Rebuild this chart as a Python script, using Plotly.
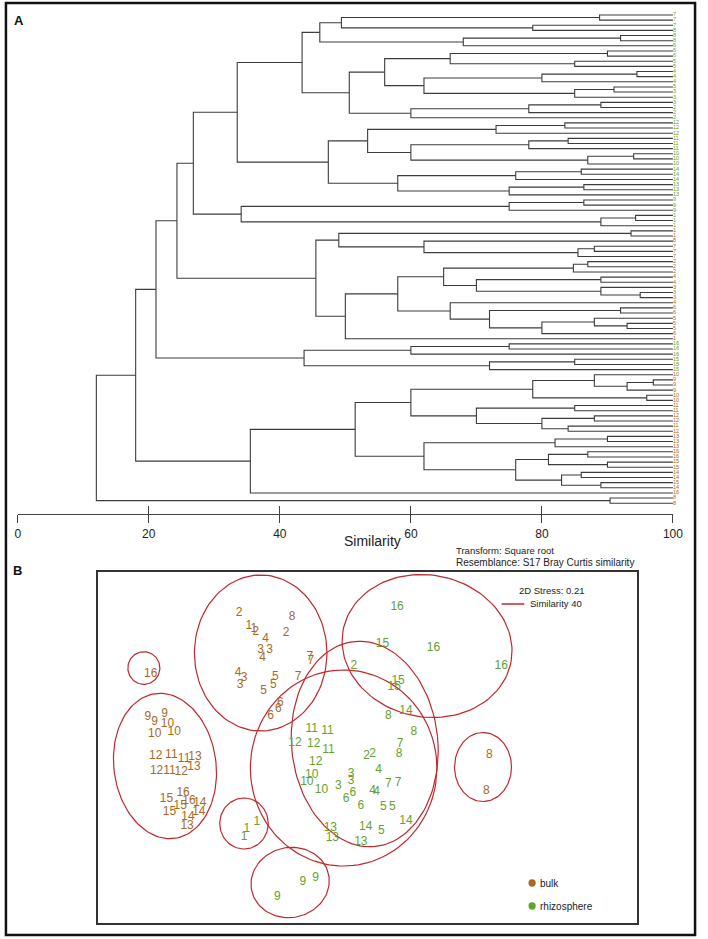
import math
import plotly.graph_objects as go

W, H = 708, 939
FONT = "Liberation Sans, Arial, sans-serif"
GREEN = "#66A02E"
BROWN = "#A66A24"
RED = "#C0282D"
LINE = "#3c3c3c"

# ---------------- Panel A data: dendrogram ----------------
leaf_labels = [
    "7", "7", "7", "8", "8", "8", "6", "6", "6", "5", "5", "4", "4", "4", "5", "3", "3", "3", "2", "2", "2",
    "12", "12", "12", "11", "11", "11", "10", "10", "10", "14", "14", "14", "13", "13", "13", "9", "9", "9",
    "1", "1", "1",
    "1", "1", "8", "7", "7", "7", "2", "2", "2", "4", "4", "3", "3", "3", "4", "6", "6", "5", "5", "5", "6", "1",
    "16", "16", "16", "15", "15", "15",
    "10", "9", "9", "9", "10", "10", "11", "11", "12", "12", "11", "12", "13", "13", "13", "16", "16", "15",
    "15", "14", "14", "15", "14", "16", "8", "8",
]
leaf_type = ["r"] * 42 + ["b"] * 22 + ["r"] * 6 + ["b"] * 26

# merges: (first leaf, split leaf, end leaf, similarity)
merges = [
    (0, 94, 96, 12.0), (94, 95, 96, 90.4), (0, 70, 94, 18.0), (70, 93, 94, 35.5),
    (0, 64, 70, 21.1), (0, 42, 64, 24.3), (0, 36, 42, 26.8), (0, 21, 36, 33.5),
    (36, 39, 42, 34.1), (42, 48, 64, 45.5), (64, 67, 70, 43.7), (70, 82, 93, 51.5),
    (0, 7, 21, 43.4), (0, 4, 7, 46.1), (0, 2, 4, 49.4), (0, 1, 2, 88.8), (2, 3, 4, 78.6),
    (4, 6, 7, 68.0), (4, 5, 6, 92.0), (7, 17, 21, 50.6), (7, 11, 17, 56.0), (7, 9, 11, 66.0),
    (7, 8, 9, 90.0), (9, 10, 11, 85.0), (11, 14, 17, 62.0), (11, 13, 14, 80.0), (11, 12, 13, 94.5),
    (14, 16, 17, 85.0), (14, 15, 16, 91.0), (17, 20, 21, 60.0), (17, 19, 20, 78.0), (17, 18, 19, 89.0),
    (21, 30, 36, 47.4), (21, 24, 30, 53.4), (21, 23, 24, 73.0), (21, 22, 23, 83.5), (24, 27, 30, 60.0),
    (24, 26, 27, 78.0), (24, 25, 26, 84.0), (27, 29, 30, 87.0), (27, 28, 29, 94.0), (30, 33, 36, 58.0),
    (30, 32, 33, 76.0), (30, 31, 32, 86.0), (33, 35, 36, 75.0), (33, 34, 35, 86.4),
    (36, 38, 39, 75.0), (36, 37, 38, 86.4), (39, 41, 42, 89.0), (39, 40, 41, 94.3),
    (42, 44, 48, 49.0), (42, 43, 44, 93.6), (44, 45, 48, 62.0), (45, 47, 48, 85.5), (45, 46, 47, 88.0),
    (48, 63, 64, 50.0), (48, 56, 63, 58.0), (48, 51, 56, 65.0), (48, 50, 51, 84.8), (48, 49, 50, 87.0),
    (51, 53, 56, 70.0), (51, 52, 53, 89.0), (53, 54, 56, 89.0), (54, 55, 56, 95.0), (56, 57, 63, 66.0),
    (57, 59, 63, 72.0), (57, 58, 59, 92.0), (59, 62, 63, 80.0), (59, 60, 62, 88.0), (60, 61, 62, 93.0),
    (64, 66, 67, 60.0), (64, 65, 66, 75.0), (67, 69, 70, 72.0), (67, 68, 69, 85.0),
    (70, 76, 82, 60.0), (70, 74, 76, 78.6), (70, 71, 74, 88.0), (71, 73, 74, 93.0), (71, 72, 73, 97.0),
    (74, 75, 76, 96.0), (76, 78, 82, 70.0), (76, 77, 78, 85.0), (78, 80, 82, 80.0), (78, 79, 80, 88.0),
    (80, 81, 82, 84.0), (82, 85, 93, 62.0), (82, 84, 85, 82.0), (82, 83, 84, 90.0), (85, 89, 93, 76.0),
    (85, 87, 89, 81.0), (85, 86, 87, 87.0), (87, 88, 89, 90.0), (89, 91, 93, 83.0), (89, 90, 91, 86.0),
    (91, 92, 93, 89.0),
]
sim_ticks = [0, 20, 40, 60, 80, 100]

# ---------------- Panel B data: NMDS ----------------
bulk_labels = ["2", "8", "1", "1", "2", "2", "4", "3", "3", "4", "7", "7", "4", "3", "3", "5", "5", "5",
               "7", "6", "6", "6", "16", "9", "9", "9", "10", "10", "10", "12", "11", "11", "13", "12",
               "11", "12", "13", "15", "16", "15", "16", "14", "15", "14", "14", "13", "8", "8"]
bulk_x = [-1.31, -0.77, -1.21, -1.16, -1.14, -0.83, -1.04, -1.09, -1.00, -1.07, -0.59, -0.58, -1.32,
          -1.26, -1.30, -0.94, -0.96, -1.06, -0.71, -0.89, -0.91, -0.99, -2.21, -2.24, -2.17, -2.07,
          -2.04, -2.17, -1.97, -2.16, -2.00, -1.87, -1.76, -2.15, -2.02, -1.90, -1.77, -2.05, -1.88,
          -1.91, -1.82, -1.71, -2.02, -1.83, -1.72, -1.84, 1.24, 1.21]
bulk_y = [1.35, 1.31, 1.22, 1.19, 1.16, 1.15, 1.09, 0.98, 0.98, 0.90, 0.91, 0.87, 0.75, 0.70, 0.63,
          0.71, 0.63, 0.57, 0.71, 0.45, 0.39, 0.32, 0.74, 0.31, 0.26, 0.34, 0.24, 0.14, 0.16, -0.08,
          -0.07, -0.11, -0.09, -0.23, -0.23, -0.24, -0.19, -0.51, -0.45, -0.58, -0.53, -0.55, -0.64,
          -0.69, -0.64, -0.78, -0.07, -0.43]
rhizo_labels = ["12", "12", "11", "11", "11", "12", "10", "10", "10", "3", "3", "3", "2", "2", "7", "8",
                "4", "6", "6", "6", "4", "4", "7", "7", "5", "5", "13", "13", "13", "14", "5", "14",
                "1", "1", "1", "9", "9", "9", "16", "16", "16", "15", "2", "15", "15", "14", "8", "8"]
rhizo_x = [-0.74, -0.55, -0.40, -0.57, -0.41, -0.53, -0.57, -0.62, -0.47, -0.30, -0.17, -0.17, -0.01,
           0.05, 0.33, 0.32, 0.11, -0.22, -0.15, -0.07, 0.05, 0.09, 0.21, 0.31, 0.16, 0.25, -0.38,
           -0.36, -0.07, -0.02, 0.14, 0.39, -1.13, -1.23, -1.26, -0.66, -0.53, -0.92, 0.30, 0.67,
           1.36, 0.15, -0.14, 0.31, 0.27, 0.39, 0.21, 0.47]
rhizo_y = [0.05, 0.04, -0.02, 0.19, 0.17, -0.14, -0.27, -0.34, -0.42, -0.38, -0.26, -0.33, -0.08,
           -0.06, 0.04, -0.06, -0.22, -0.51, -0.45, -0.58, -0.43, -0.44, -0.36, -0.35, -0.59, -0.59,
           -0.80, -0.90, -0.94, -0.79, -0.83, -0.73, -0.74, -0.81, -0.89, -1.34, -1.30, -1.49, 1.41,
           1.00, 0.82, 1.04, 0.82, 0.67, 0.61, 0.37, 0.32, 0.16]
# similarity-40 contours approximated as ellipses (centre, semi-axes, rotation in degrees)
contour_cx = [-1.09, -2.28, -2.065, -1.26, -0.79, -0.245, -0.03, 0.605, 1.175]
contour_cy = [0.945, 0.795, -0.185, -0.76, -1.35, -0.205, 0.035, 1.015, -0.195]
contour_rx = [0.675, 0.163, 0.52, 0.247, 0.40, 0.95, 0.745, 0.87, 0.29]
contour_ry = [0.78, 0.163, 0.73, 0.255, 0.35, 0.98, 1.03, 0.71, 0.345]
contour_rot = [0, 0, 8, 0, 10, 0, 6, -10, 0]


def px(x):
    return x / W


def py(y):
    return 1 - y / H


fig = go.Figure()

# ---- dendrogram segments ----
split_at = {(lo, hi): mid for lo, mid, hi, s in merges}
height = {(lo, hi): s for lo, mid, hi, s in merges}
xs, ys = [], []


def place(lo, hi):
    if hi - lo == 1:
        return 100.0, float(lo)
    mid = split_at[(lo, hi)]
    s = height[(lo, hi)]
    xl, yl = place(lo, mid)
    xr, yr = place(mid, hi)
    xs.extend([xl, s, s, xr, None])
    ys.extend([yl, yl, yr, yr, None])
    return s, (yl + yr) / 2


place(0, len(leaf_labels))
fig.add_trace(go.Scatter(x=xs, y=ys, mode="lines", line=dict(color=LINE, width=1.1),
                         xaxis="x", yaxis="y", hoverinfo="skip", cliponaxis=False))
fig.add_trace(go.Scatter(
    x=[100] * len(leaf_labels), y=list(range(len(leaf_labels))), mode="text",
    text=leaf_labels, textposition="middle right",
    textfont=dict(size=5.5, family=FONT,
                  color=[GREEN if t == "r" else BROWN for t in leaf_type]),
    xaxis="x", yaxis="y", cliponaxis=False, hoverinfo="skip"))
fig.add_trace(go.Scatter(x=[0, 100], y=[0, 0], mode="markers", marker=dict(opacity=0),
                         xaxis="x3", yaxis="y", hoverinfo="skip"))

# ---- NMDS ----
cx_all, cy_all = [], []
for cx, cy, rx, ry, rot in zip(contour_cx, contour_cy, contour_rx, contour_ry, contour_rot):
    a = math.radians(rot)
    for k in range(121):
        t = 2 * math.pi * k / 120
        ex, ey = rx * math.cos(t), ry * math.sin(t)
        cx_all.append(cx + ex * math.cos(a) - ey * math.sin(a))
        cy_all.append(cy + ex * math.sin(a) + ey * math.cos(a))
    cx_all.append(None)
    cy_all.append(None)
fig.add_trace(go.Scatter(x=cx_all, y=cy_all, mode="lines", line=dict(color=RED, width=1.2),
                         xaxis="x2", yaxis="y2", hoverinfo="skip"))
fig.add_trace(go.Scatter(x=bulk_x, y=bulk_y, mode="text", text=bulk_labels,
                         textfont=dict(size=12, family=FONT, color=BROWN),
                         xaxis="x2", yaxis="y2", cliponaxis=False))
fig.add_trace(go.Scatter(x=rhizo_x, y=rhizo_y, mode="text", text=rhizo_labels,
                         textfont=dict(size=12, family=FONT, color=GREEN),
                         xaxis="x2", yaxis="y2", cliponaxis=False))

axis_common = dict(showgrid=False, zeroline=False)
fig.update_layout(
    width=W, height=H, margin=dict(l=0, r=0, t=0, b=0),
    paper_bgcolor="white", plot_bgcolor="rgba(0,0,0,0)", showlegend=False,
    font=dict(family=FONT, color="#222"),
    xaxis=dict(domain=[px(15), px(682.5)], range=[0, 100], anchor="y",
               showline=True, linecolor="#444", linewidth=1.2,
               ticks="outside", ticklen=8, tickwidth=1.2, tickcolor="#444",
               tickvals=sim_ticks, tickfont=dict(size=12, color="#222"), **axis_common),
    xaxis3=dict(domain=[px(15), px(682.5)], range=[0, 100], anchor="y", overlaying="x",
                showline=False, ticks="inside", ticklen=8, tickwidth=1.2, tickcolor="#444",
                tickvals=sim_ticks, showticklabels=False, **axis_common),
    yaxis=dict(domain=[py(514), py(10)], range=[97.1, -0.97], anchor="x",
               visible=False, **axis_common),
    xaxis2=dict(domain=[px(97), px(646)], range=[-2.745, 2.745], anchor="y2",
                showline=True, mirror=True, linecolor="#333", linewidth=1.5,
                showticklabels=False, ticks="", **axis_common),
    yaxis2=dict(domain=[py(923), py(572)], range=[-1.755, 1.755], anchor="x2",
                showline=True, mirror=True, linecolor="#333", linewidth=1.5,
                showticklabels=False, ticks="", **axis_common),
)

ann = []


def text(x, y, s, size, xanchor="left", bold=False, color="#222"):
    ann.append(dict(x=px(x), y=py(y), xref="paper", yref="paper", text=f"<b>{s}</b>" if bold else s,
                    showarrow=False, xanchor=xanchor, yanchor="middle",
                    font=dict(size=size, family=FONT, color=color)))


text(16, 20, "A", 13, "center", bold=True, color="#111")
text(15, 570, "B", 13, "center", bold=True, color="#111")
text(376, 541, "Similarity", 14, "center")
text(459, 550, "Transform: Square root", 9.5)
text(459, 562, "Resemblance: S17 Bray Curtis similarity", 10)
text(559, 590, "2D Stress: 0.21", 9.5, "center")
text(563.5, 603, "Similarity 40", 9.5, "center")
text(545, 883, "bulk", 10)
text(545, 906, "rhizosphere", 10)

shapes = [
    dict(type="rect", xref="paper", yref="paper", x0=px(3), x1=px(705), y0=py(935), y1=py(3),
         line=dict(color="#111", width=2.5)),
    dict(type="line", xref="paper", yref="paper", x0=px(508), x1=px(531), y0=py(604), y1=py(604),
         line=dict(color=RED, width=1.5)),
    dict(type="circle", xref="paper", yref="paper", x0=px(535.3), x1=px(542.7), y0=py(886.7),
         y1=py(879.3), fillcolor=BROWN, line=dict(width=0)),
    dict(type="circle", xref="paper", yref="paper", x0=px(535.3), x1=px(542.7), y0=py(909.7),
         y1=py(902.3), fillcolor=GREEN, line=dict(width=0)),
]
fig.update_layout(annotations=ann, shapes=shapes)
fig.write_html("out.html", config={"displayModeBar": False},
               post_script="document.body.style.margin='0';document.body.style.overflow='hidden';")
